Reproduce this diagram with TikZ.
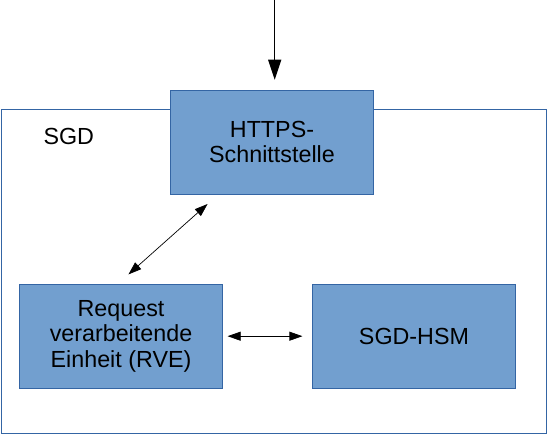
\documentclass[tikz,border=0pt]{standalone}
\usepackage{fontspec}
\setmainfont{Liberation Sans}
\usetikzlibrary{arrows.meta}
\definecolor{boxfill}{HTML}{729FCF}
\definecolor{boxline}{HTML}{3465A4}
\begin{document}
\begin{tikzpicture}[x=1pt,y=-1pt,
  lbl/.style={font=\fontsize{23.3}{25.4}\selectfont, text=black},
  blockbox/.style={lbl, draw=boxline, fill=boxfill, line width=1pt,
    minimum width=203pt, minimum height=104pt, align=center, inner sep=0pt},
  dbl/.style={{Triangle[length=13pt,width=9pt]}-{Triangle[length=13pt,width=9pt]}, line width=0.7pt},
  inarr/.style={-{Triangle[length=20pt,width=13pt]}, line width=1.2pt}]
\useasboundingbox (0,0) rectangle (548,435);
\node[draw=boxline, line width=1pt, minimum width=545.8pt, minimum height=323.8pt, inner sep=0pt, anchor=north west] (sgdframe) at (0.5,109.5) {};
\node[lbl, anchor=base west] (sgdlabel) at (40,145) {SGD};
\node[blockbox] (https) at (272,142.2) {HTTPS-\\Schnittstelle};
\node[blockbox] (rve) at (121,336.2) {Request\\verarbeitende\\Einheit (RVE)};
\node[blockbox] (hsm) at (414,336.2) {SGD-HSM};
\coordinate (top) at (274.7,0);
\draw[inarr, shorten >=10pt] (top) -- (top |- https.north);
\draw[dbl, shorten <=14pt, shorten >=14pt] ([xshift=-3pt]rve.north) -- ([xshift=-54pt]https.south);
\draw[dbl, shorten <=4.6pt, shorten >=9.6pt] (rve.east) -- (hsm.west);
\end{tikzpicture}
\end{document}
